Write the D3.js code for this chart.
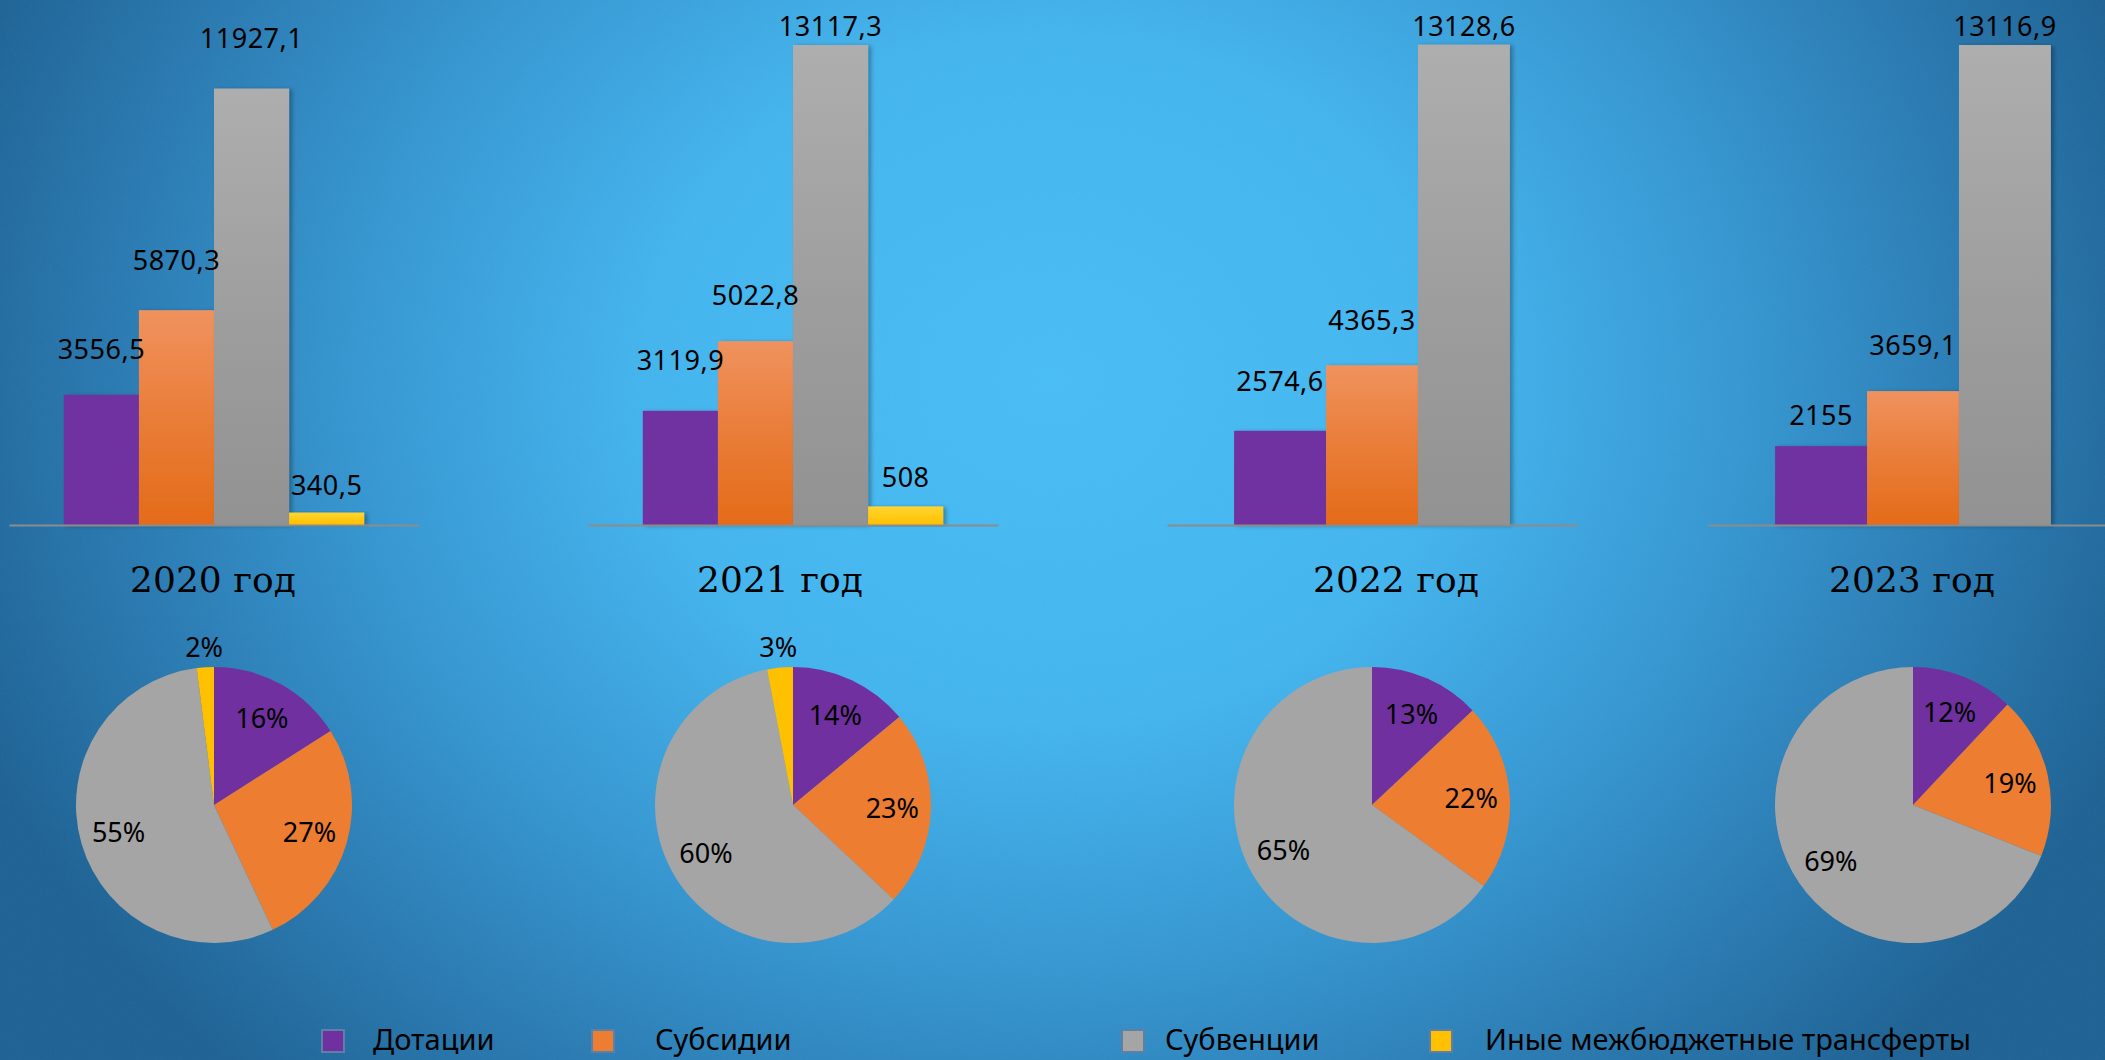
<!DOCTYPE html>
<html>
<head>
<meta charset="utf-8">
<script src="https://cdn.jsdelivr.net/npm/d3@7"></script>
<style>
  html, body { margin: 0; padding: 0; overflow: hidden; }
  svg { display: block; }
  .val { font-family: 'Noto Sans', sans-serif; font-size: 27px; letter-spacing: 0.5px; fill: #000; }
  .pct { font-family: 'Noto Sans', sans-serif; font-size: 27px; fill: #000; }
  .year { font-family: 'DejaVu Serif', serif; font-size: 36px; fill: #000; }
  .leg { font-family: 'Noto Sans', sans-serif; font-size: 29px; fill: #000; }
</style>
</head>
<body>
<div id="chart"></div>
<script>
// --- data ---
const categories = ['Дотации', 'Субсидии', 'Субвенции', 'Иные межбюджетные трансферты'];
const years = ['2020 год', '2021 год', '2022 год', '2023 год'];

const values2020 = [3556.5, 5870.3, 11927.1, 340.5];
const values2021 = [3119.9, 5022.8, 13117.3, 508];
const values2022 = [2574.6, 4365.3, 13128.6];
const values2023 = [2155, 3659.1, 13116.9];

// shares as printed on the pies
const shares2020 = [16, 27, 55, 2];
const shares2021 = [14, 23, 60, 3];
const shares2022 = [13, 22, 65];
const shares2023 = [12, 19, 69];

const colors = ['#7030A0', '#ED7D31', '#A5A5A5', '#FFC000'];

// --- layout ---
const W = 2105, H = 1060;
const panelX = [214, 793, 1372, 1913];
const titleX = [213, 780, 1396, 1912];
const baseY = 525;
const axisHalf = 205;
const pieY = 805, pieR = 138;
// distance from bar top to its label baseline (labels never go above labelTop)
const labelGap = [[36, 40, 41, 18], [41, 36, 41, 19], [40, 35, 41], [21, 36, 41]];
const labelTop = 36;
const legendX = [322, 592, 1122, 1430];
const legendTextX = [373, 655, 1165, 1485];

const barValues = [values2020, values2021, values2022, values2023];
const pieShares = [shares2020, shares2021, shares2022, shares2023];

const fmt = d3.formatLocale({ decimal: ',', thousands: ' ', grouping: [3], currency: ['', ''] }).format('.1~f');

const svg = d3.select('#chart').append('svg')
    .attr('width', W)
    .attr('height', H);

const defs = svg.append('defs');

const bg = defs.append('radialGradient')
    .attr('id', 'bg')
    .attr('gradientUnits', 'userSpaceOnUse')
    .attr('cx', 1050).attr('cy', 380).attr('r', 1150)
    .attr('gradientTransform', 'translate(1050,380) scale(1,0.85) translate(-1050,-380)');
[[0, '#48BEF6'], [0.35, '#43B5EF'], [0.6, '#3597D2'], [0.85, '#2675AC'], [1, '#1D6294']]
    .forEach(s => bg.append('stop').attr('offset', s[0]).attr('stop-color', s[1]));

// vertical shading on bars
const barShades = [['#7030A0', '#7030A0'], ['#F0925E', '#E46B19'], ['#AEAEAE', '#929292'], ['#FFD633', '#FFC000']];
barShades.forEach((c, i) => {
    const g = defs.append('linearGradient')
        .attr('id', 'bar' + i)
        .attr('x1', 0).attr('y1', 0).attr('x2', 0).attr('y2', 1);
    g.append('stop').attr('offset', 0).attr('stop-color', c[0]);
    g.append('stop').attr('offset', 0.55).attr('stop-color', d3.interpolateRgb(c[0], c[1])(0.6));
    g.append('stop').attr('offset', 1).attr('stop-color', c[1]);
});

const shadow = defs.append('filter').attr('id', 'shadow')
    .attr('x', '-10%').attr('y', '-10%').attr('width', '130%').attr('height', '120%');
shadow.append('feDropShadow')
    .attr('dx', 3).attr('dy', 1).attr('stdDeviation', 2)
    .attr('flood-color', '#000').attr('flood-opacity', 0.3);

const noise = defs.append('filter').attr('id', 'noise');
noise.append('feTurbulence')
    .attr('type', 'fractalNoise').attr('baseFrequency', 0.9).attr('numOctaves', 2).attr('seed', 3);
noise.append('feColorMatrix').attr('type', 'saturate').attr('values', 0);

svg.append('rect').attr('width', W).attr('height', H).attr('fill', 'url(#bg)');
svg.append('rect').attr('width', W).attr('height', H)
    .attr('filter', 'url(#noise)').attr('opacity', 0.05);

// shared value scale
const y = d3.scaleLinear().domain([0, 14347]).range([baseY, 0]);

barValues.forEach((vals, p) => {
    const cx = panelX[p];
    const x = d3.scaleBand()
        .domain(categories.slice(0, vals.length))
        .range([cx - axisHalf, cx + axisHalf])
        .paddingInner(0)
        .paddingOuter(0.73);

    const g = svg.append('g').attr('class', 'panel');

    g.selectAll('rect.bar')
        .data(vals)
        .enter()
        .append('rect')
        .attr('class', 'bar')
        .attr('x', (d, i) => x(categories[i]))
        .attr('y', d => y(d))
        .attr('width', x.bandwidth())
        .attr('height', d => baseY - y(d))
        .attr('fill', (d, i) => 'url(#bar' + i + ')')
        .attr('filter', 'url(#shadow)');

    const axis = g.append('g')
        .attr('transform', 'translate(0,' + baseY + ')')
        .call(d3.axisBottom(x).tickSize(0).tickFormat(''));
    axis.select('.domain').attr('stroke', '#8C8C8C').attr('stroke-width', 2);

    g.selectAll('text.val')
        .data(vals)
        .enter()
        .append('text')
        .attr('class', 'val')
        .attr('text-anchor', 'middle')
        .attr('x', (d, i) => x(categories[i]) + x.bandwidth() / 2)
        .attr('y', (d, i) => Math.max(labelTop, y(d) - labelGap[p][i]))
        .text(d => fmt(d));

    svg.append('text')
        .attr('class', 'year')
        .attr('text-anchor', 'middle')
        .attr('x', titleX[p])
        .attr('y', 592)
        .text(years[p]);
});

// pies
const pie = d3.pie().sort(null).value(d => d);
const arc = d3.arc().innerRadius(0).outerRadius(pieR);

pieShares.forEach((shares, p) => {
    const g = svg.append('g')
        .attr('transform', 'translate(' + panelX[p] + ',' + pieY + ')');
    const arcs = pie(shares);

    g.selectAll('path')
        .data(arcs)
        .enter()
        .append('path')
        .attr('d', arc)
        .attr('fill', (d, i) => colors[i]);

    g.selectAll('text')
        .data(arcs)
        .enter()
        .append('text')
        .attr('class', 'pct')
        .attr('text-anchor', 'middle')
        .attr('dy', '0.36em')
        .attr('transform', d => {
            const a = (d.startAngle + d.endAngle) / 2;
            const r = d.data < 5 ? pieR + 20 : pieR * 0.72;
            return 'translate(' + (r * Math.sin(a)) + ',' + (-r * Math.cos(a)) + ')';
        })
        .text(d => d.data + '%');
});

// legend
const legend = svg.append('g').attr('class', 'legend');
categories.forEach((c, i) => {
    legend.append('rect')
        .attr('x', legendX[i])
        .attr('y', 1030)
        .attr('width', 22)
        .attr('height', 22)
        .attr('fill', colors[i])
        .attr('stroke', '#5E7FA6')
        .attr('stroke-width', 2);
    legend.append('text')
        .attr('class', 'leg')
        .attr('x', legendTextX[i])
        .attr('y', 1050)
        .text(c);
});
</script>
</body>
</html>
